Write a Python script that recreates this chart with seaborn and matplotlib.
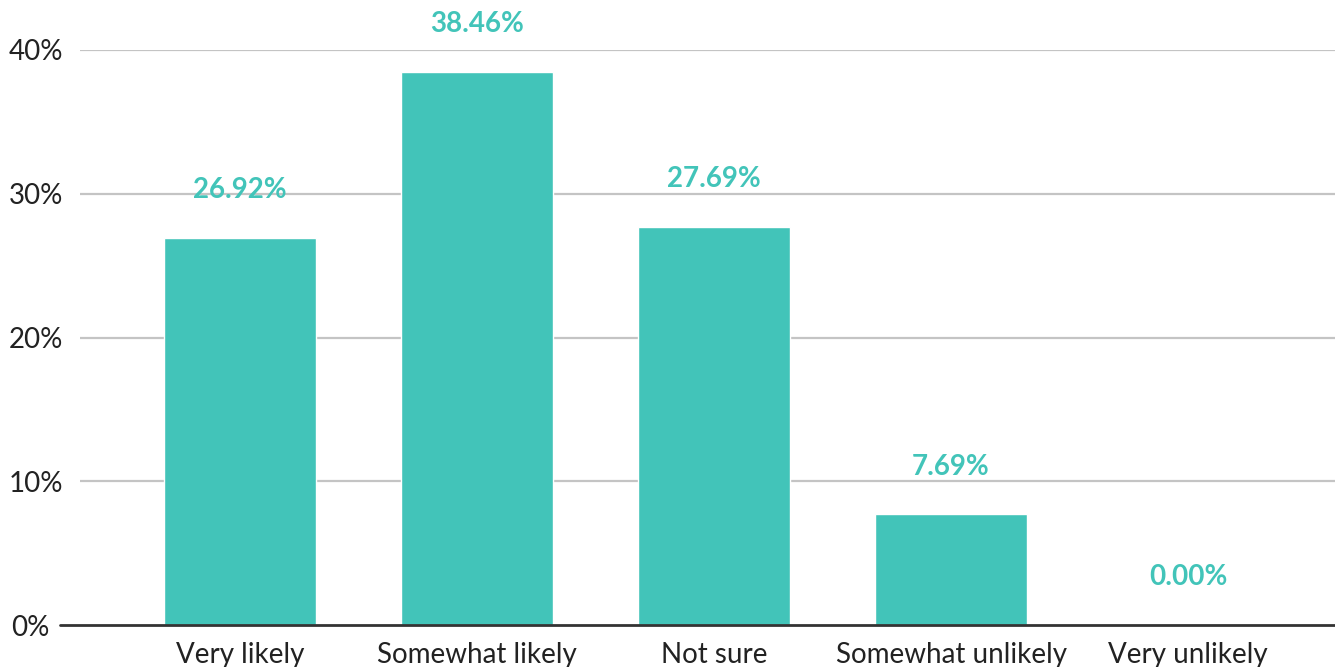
import matplotlib
matplotlib.use("Agg")
import matplotlib.pyplot as plt
import matplotlib.transforms as mtransforms
import seaborn as sns
import pandas as pd

categories = ["Very likely", "Somewhat likely", "Not sure", "Somewhat unlikely", "Very unlikely"]
values = [26.92, 38.46, 27.69, 7.69, 0.00]
yticks = [0, 10, 20, 30, 40]
ytick_labels = ["0%", "10%", "20%", "30%", "40%"]

teal = "#42C4B9"
sns.set_theme(style="white")
plt.rcParams["font.family"] = ["Lato", "DejaVu Sans"]

df = pd.DataFrame({"cat": categories, "val": values})

fig = plt.figure(figsize=(13.35, 6.67), dpi=100)
ax = fig.add_axes([80 / 1335, 42 / 667, 1255 / 1335, 575 / 667])

sns.barplot(data=df, x="cat", y="val", color=teal, width=0.645, saturation=1, ax=ax, zorder=3)

ax.set_xlim(-0.675, 4.62)
ax.set_ylim(0, 40)
ax.set_yticks(yticks)
ax.set_yticklabels(ytick_labels)
ax.set_xlabel("")
ax.set_ylabel("")
for s in ax.spines.values():
    s.set_visible(False)
for y in yticks[1:]:
    ax.axhline(y, color="#c4c4c4", lw=1.6, zorder=1)
ax.plot([-0.016, 1], [0, 0], transform=ax.get_yaxis_transform(), color="#333333", lw=2, clip_on=False, zorder=4)

ax.tick_params(axis="y", length=0, pad=12, labelsize=20, labelcolor="#222222")
ax.tick_params(axis="x", length=0, pad=12, labelsize=20, labelcolor="#222222")

# shift the 0% label left so it clears the extended baseline
lab0 = ax.get_yticklabels()[0]
lab0.set_transform(lab0.get_transform() + mtransforms.ScaledTranslation(-0.14, 0, fig.dpi_scale_trans))

for i, v in enumerate(values):
    ax.annotate(f"{v:.2f}%", (i, v), xytext=(0, 34.5), textcoords="offset points",
                ha="center", va="center", color=teal, fontsize=20, fontweight="bold",
                annotation_clip=False)

fig.savefig("out.png", dpi=100, facecolor="white")
